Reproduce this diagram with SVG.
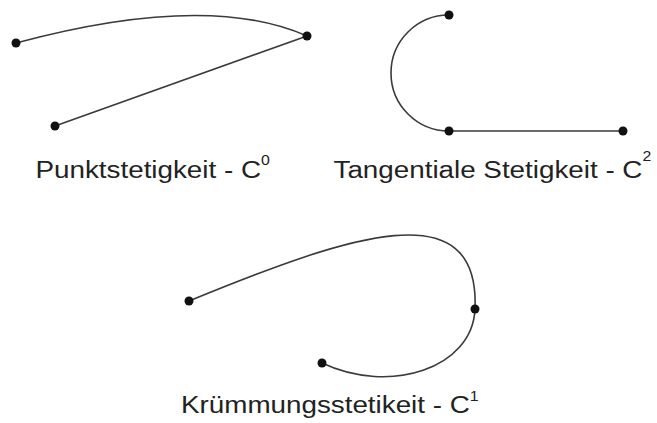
<svg xmlns="http://www.w3.org/2000/svg" width="657" height="423" viewBox="0 0 657 423">
<style>
.c{fill:none;stroke:#3a3a3a;stroke-width:1.6}
.d{fill:#111}
.t{font-family:"Liberation Sans",Arial,sans-serif;font-size:24.5px;fill:#222}
.s{font-size:14px}
</style>
<rect width="657" height="423" fill="#fff"/>
<g id="connectors">
<path class="c" d="M16,43 C120,15 230,2 307,36"/>
<path class="c" d="M55,126 L307,36"/>
<path class="c" d="M449,15 A58,58 0 0 0 449,131 L623,131"/>
<path class="c" d="M189,301 C350,235 480,190 475,309 C472.5,368.5 390,395 322,363"/>
</g>
<g id="p0"><circle class="d" cx="16" cy="43" r="4.5"/></g>
<g id="p1"><circle class="d" cx="307" cy="36" r="4.5"/></g>
<g id="p2"><circle class="d" cx="55" cy="126" r="4.5"/></g>
<g id="p3"><circle class="d" cx="449" cy="15" r="4.5"/></g>
<g id="p4"><circle class="d" cx="449" cy="131" r="4.5"/></g>
<g id="p5"><circle class="d" cx="623" cy="131" r="4.5"/></g>
<g id="p6"><circle class="d" cx="189" cy="301" r="4.5"/></g>
<g id="p7"><circle class="d" cx="475" cy="309" r="4.5"/></g>
<g id="p8"><circle class="d" cx="322" cy="363" r="4.5"/></g>
<g id="label-c0"><text class="t" transform="translate(35.5,177.5) scale(1.135,1)">Punktstetigkeit - C<tspan class="s" dy="-13">0</tspan></text></g>
<g id="label-c2"><text class="t" transform="translate(333.5,177.5) scale(1.135,1)">Tangentiale Stetigkeit - C<tspan class="s" dy="-17">2</tspan></text></g>
<g id="label-c1"><text class="t" transform="translate(181,413) scale(1.135,1)">Krümmungsstetikeit - C<tspan class="s" dy="-12">1</tspan></text></g>
</svg>
